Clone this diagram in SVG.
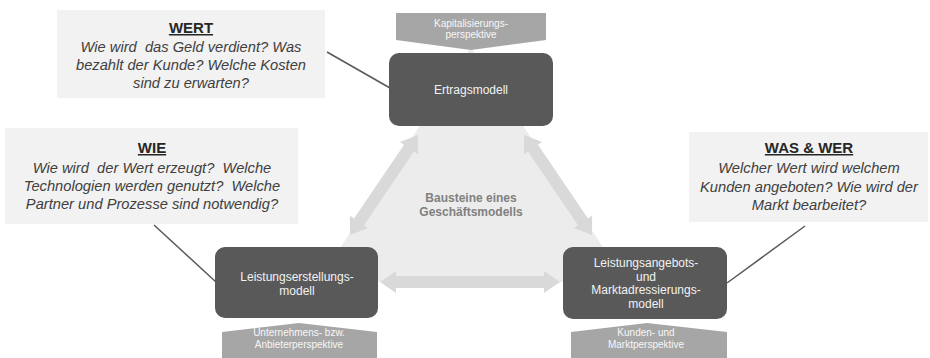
<svg xmlns="http://www.w3.org/2000/svg" width="930" height="358" viewBox="0 0 930 358">
<defs>
<style>
.node{fill:#595959;}
.nt{font-family:"Liberation Sans",Arial,sans-serif;font-size:12px;fill:#f2f2f2;text-anchor:middle;}
.pent{fill:#a6a6a6;}
.pt{font-family:"Liberation Sans",Arial,sans-serif;font-size:10px;fill:#f7f7f7;text-anchor:middle;}
.box{fill:#f2f2f2;}
.bh{font-family:"Liberation Sans",Arial,sans-serif;font-size:15px;font-weight:bold;fill:#262626;text-anchor:middle;text-decoration:underline;}
.bt{font-family:"Liberation Sans",Arial,sans-serif;font-size:14.7px;font-style:italic;fill:#404040;text-anchor:middle;white-space:pre;}
.conn{stroke:#595959;stroke-width:1.5;fill:none;}
.darr{fill:#d9d9d9;}
.ct{font-family:"Liberation Sans",Arial,sans-serif;font-size:12px;font-weight:bold;fill:#808080;text-anchor:middle;}
</style>
</defs>
<g id="background">
<polygon points="471,47 318,282 626,282" fill="#ececec"/>
<text class="ct" x="471" y="202">Bausteine eines</text>
<text class="ct" x="471" y="216">Geschäftsmodells</text>
</g>
<g id="cycle-arrows">
<path class="darr" transform="translate(384,185) rotate(-55.8)" d="M -60.5 0 L -44.5 -11 L -44.5 -6 L 44.5 -6 L 44.5 -11 L 60.5 0 L 44.5 11 L 44.5 6 L -44.5 6 L -44.5 11 Z"/>
<path class="darr" transform="translate(558,185) rotate(55.8)" d="M -60.5 0 L -44.5 -11 L -44.5 -6 L 44.5 -6 L 44.5 -11 L 60.5 0 L 44.5 11 L 44.5 6 L -44.5 6 L -44.5 11 Z"/>
<path class="darr" transform="translate(470,282)" d="M -90 0 L -74 -11 L -74 -6 L 74 -6 L 74 -11 L 90 0 L 74 11 L 74 6 L -74 6 L -74 11 Z"/>
</g>
<g id="connectors">
<line class="conn" x1="327" y1="52" x2="390" y2="88"/>
<line class="conn" x1="154" y1="225" x2="216" y2="282"/>
<line class="conn" x1="805" y1="226" x2="727" y2="283"/>
</g>
<g id="ertragsmodell">
<rect class="node" x="389" y="53" width="164" height="73" rx="10"/>
<text class="nt" x="471" y="94">Ertragsmodell</text>
</g>
<g id="kapitalisierung">
<polygon class="pent" points="396,13 546,13 546,40 471,50 396,40"/>
<text class="pt" x="471" y="27">Kapitalisierungs-</text>
<text class="pt" x="471" y="38">perspektive</text>
</g>
<g id="leistungserstellung">
<rect class="node" x="215" y="247" width="163" height="71" rx="10"/>
<text class="nt" x="297" y="281">Leistungserstellungs-</text>
<text class="nt" x="297" y="295">modell</text>
</g>
<g id="unternehmensperspektive">
<polygon class="pent" points="222,332 299,323 377,332 377,358 222,358"/>
<text class="pt" x="299" y="336">Unternehmens- bzw.</text>
<text class="pt" x="299" y="348">Anbieterperspektive</text>
</g>
<g id="leistungsangebot">
<rect class="node" x="563" y="247" width="164" height="72" rx="10"/>
<text class="nt" x="646" y="267">Leistungsangebots-</text>
<text class="nt" x="646" y="280.5">und</text>
<text class="nt" x="646" y="294">Marktadressierungs-</text>
<text class="nt" x="646" y="307.5">modell</text>
</g>
<g id="kundenperspektive">
<polygon class="pent" points="571,332 647,323 727,332 727,358 571,358"/>
<text class="pt" x="646" y="336">Kunden- und</text>
<text class="pt" x="646" y="348">Marktperspektive</text>
</g>
<g id="wert">
<rect class="box" x="57" y="10" width="268" height="88"/>
<text class="bh" x="191" y="33">WERT</text>
<text class="bt" x="191" y="52">Wie wird  das Geld verdient? Was</text>
<text class="bt" x="191" y="70">bezahlt der Kunde? Welche Kosten</text>
<text class="bt" x="191" y="88">sind zu erwarten?</text>
</g>
<g id="wie">
<rect class="box" x="5" y="128" width="293" height="96"/>
<text class="bh" x="152" y="153">WIE</text>
<text class="bt" x="152" y="173">Wie wird  der Wert erzeugt?  Welche</text>
<text class="bt" x="152" y="191">Technologien werden genutzt?  Welche</text>
<text class="bt" x="152" y="209">Partner und Prozesse sind notwendig?</text>
</g>
<g id="was-wer">
<rect class="box" x="689" y="132" width="239" height="90"/>
<text class="bh" x="809" y="153">WAS &amp; WER</text>
<text class="bt" x="809" y="173">Welcher Wert wird welchem</text>
<text class="bt" x="809" y="192">Kunden angeboten? Wie wird der</text>
<text class="bt" x="809" y="210">Markt bearbeitet?</text>
</g>
</svg>
